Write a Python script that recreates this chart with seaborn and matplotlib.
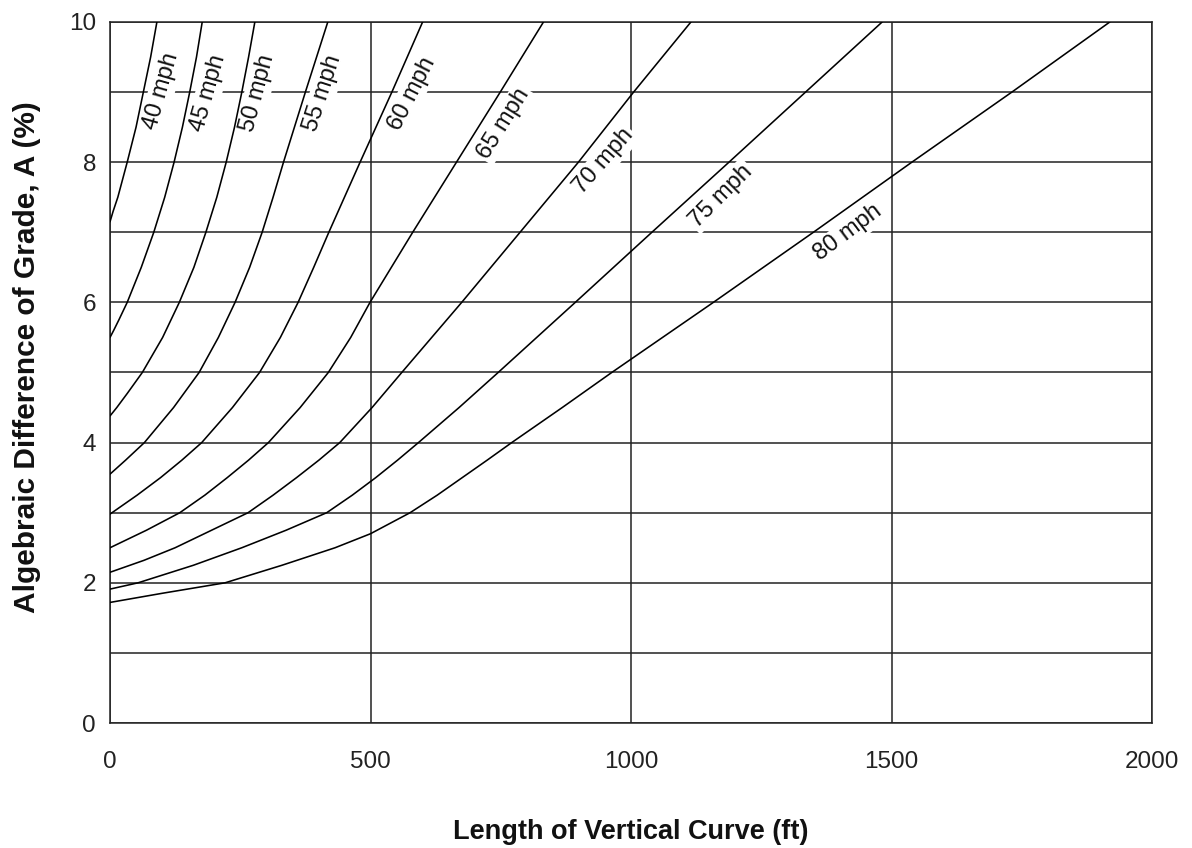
import seaborn as sns
import pandas as pd
import matplotlib.pyplot as plt
import numpy as np

# speed curves (length L in ft, grade difference A in %)
speeds = [40, 45, 50, 55, 60, 65, 70, 75, 80]

L_40 = [0, 6, 15, 24, 33, 50, 64, 78, 90]
A_40 = [7.15, 7.3, 7.5, 7.75, 8, 8.5, 9, 9.5, 10]
L_45 = [0, 7, 17, 33, 60, 84, 105, 123, 139, 153, 166, 177]
A_45 = [5.5, 5.6, 5.75, 6, 6.5, 7, 7.5, 8, 8.5, 9, 9.5, 10]
L_50 = [0, 13, 33, 62, 101, 133, 161, 184, 205, 223, 239, 253, 266, 278]
A_50 = [4.38, 4.5, 4.7, 5, 5.5, 6, 6.5, 7, 7.5, 8, 8.5, 9, 9.5, 10]
L_55 = [0, 30, 66, 122, 171, 208, 240, 268, 292, 313, 333, 375, 418]
A_55 = [3.55, 3.75, 4, 4.5, 5, 5.5, 6, 6.5, 7, 7.5, 8, 9, 10]
L_60 = [0, 52, 97, 138, 176, 235, 287, 327, 361, 391, 420, 480, 541, 600]
A_60 = [2.98, 3.25, 3.5, 3.75, 4, 4.5, 5, 5.5, 6, 6.5, 7, 8, 9, 10]
L_65 = [0, 70, 134, 182, 225, 266, 304, 365, 419, 462, 499, 581, 665, 749, 832]
A_65 = [2.5, 2.75, 3, 3.25, 3.5, 3.75, 4, 4.5, 5, 5.5, 6, 7, 8, 9, 10]
L_70 = [0, 65, 125, 195, 265, 313, 358, 401, 441, 503, 560, 675, 787, 899, 1005, 1115]
A_70 = [2.15, 2.32, 2.5, 2.75, 3, 3.25, 3.5, 3.75, 4, 4.5, 5, 6, 7, 8, 9, 10]
L_75 = [0, 54, 160, 253, 338, 416, 465, 510, 552, 592, 670, 745, 893, 1040, 1188, 1335, 1482]
A_75 = [1.91, 2, 2.25, 2.5, 2.75, 3, 3.25, 3.5, 3.75, 4, 4.5, 5, 6, 7, 8, 9, 10]
L_80 = [0, 100, 221, 330, 432, 500, 576, 628, 676, 724, 771, 868, 963, 1158, 1350, 1539, 1731, 1919]
A_80 = [1.72, 1.85, 2, 2.25, 2.5, 2.7, 3, 3.25, 3.5, 3.75, 4, 4.5, 5, 6, 7, 8, 9, 10]

curve_L = [L_40, L_45, L_50, L_55, L_60, L_65, L_70, L_75, L_80]
curve_A = [A_40, A_45, A_50, A_55, A_60, A_65, A_70, A_75, A_80]

# where the speed labels sit and how they are turned
label_L = [99, 189, 283, 409, 579, 756, 948, 1172, 1417]
label_A = [9.01, 8.98, 8.98, 8.98, 8.98, 8.55, 8.01, 7.52, 6.99]
label_rot = [74, 74, 75, 72, 63, 58, 49, 45, 37]

xticks = [0, 500, 1000, 1500, 2000]
yticks = [0, 2, 4, 6, 8, 10]

rows = []
for s, Ls, As in zip(speeds, curve_L, curve_A):
    for l, a in zip(Ls, As):
        rows.append({'speed': f'{s} mph', 'L': l, 'A': a})
df = pd.DataFrame(rows)

sns.set_theme(style='white')
plt.rcParams['font.family'] = ['Liberation Sans', 'DejaVu Sans']

fig = plt.figure(figsize=(11.92, 8.48), dpi=100)
ax = fig.add_axes([110/1192, 125/848, 1042/1192, 701/848])

sns.lineplot(data=df, x='L', y='A', hue='speed', palette=['black']*len(speeds),
             estimator=None, sort=False, legend=False, linewidth=1.15, ax=ax, zorder=4)

ax.set_xlim(0, 2000)
ax.set_ylim(0, 10)
ax.set_xticks(xticks)
ax.set_yticks(yticks)
ax.set_yticks([1, 3, 5, 7, 9], minor=True)
ax.grid(True, which='both', color='#222222', linewidth=1.1, zorder=1)
ax.set_axisbelow(True)
ax.tick_params(axis='both', which='both', length=0, labelsize=17.5, colors='#222222')
ax.tick_params(axis='x', pad=20)
ax.tick_params(axis='y', pad=10)
for sp in ax.spines.values():
    sp.set_color('#222222')
    sp.set_linewidth(1.1)

for s, x, y, r in zip(speeds, label_L, label_A, label_rot):
    ax.text(x, y, f'{s} mph', rotation=r, rotation_mode='anchor', ha='center', va='center',
            fontsize=17, color='#111111', zorder=3,
            bbox=dict(facecolor='white', edgecolor='none', pad=1.5))

ax.set_xlabel('Length of Vertical Curve (ft)', fontsize=19.5, fontweight='bold', color='#111111')
ax.set_ylabel('Algebraic Difference of Grade, A (%)', fontsize=21.5, fontweight='bold', color='#111111')
ax.xaxis.set_label_coords(0.5, -0.137)
ax.yaxis.set_label_coords(-0.066, 0.522)

fig.savefig('out.png', dpi=100)
